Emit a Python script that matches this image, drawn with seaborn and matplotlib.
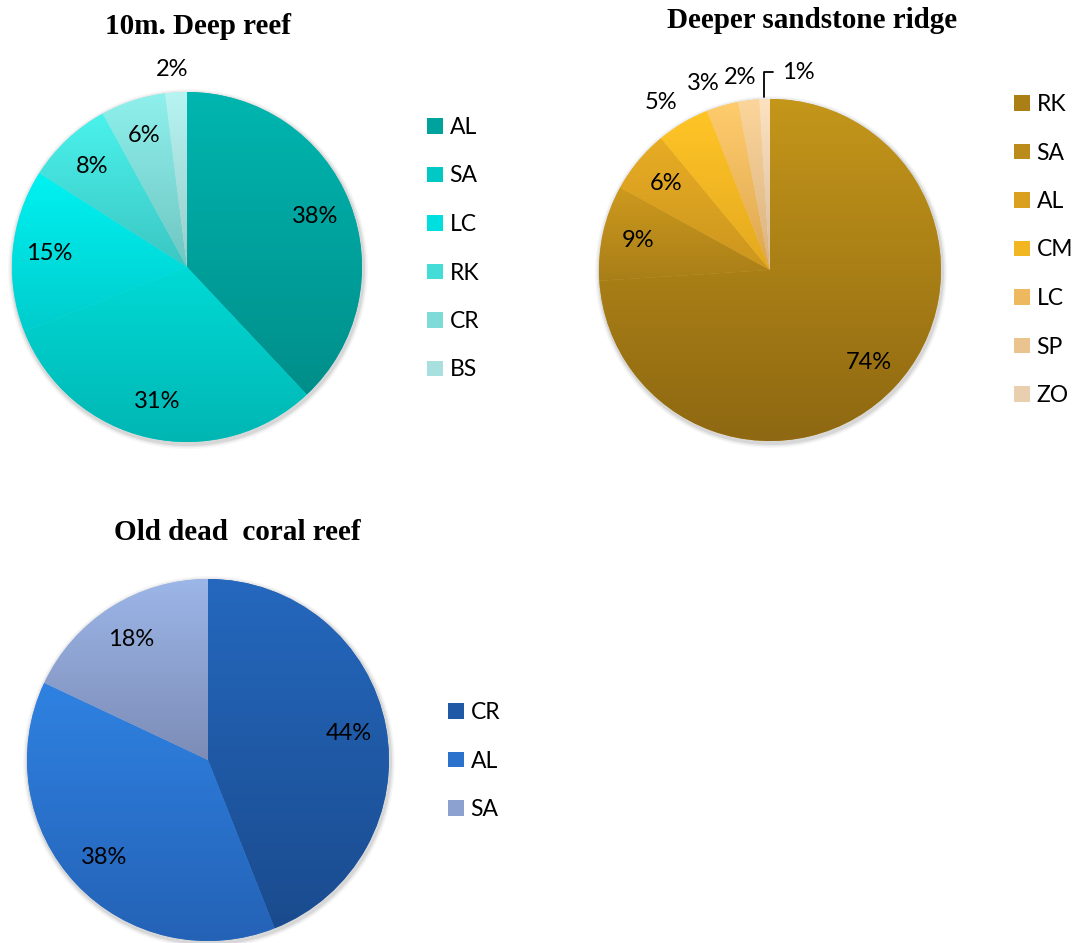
import numpy as np
import matplotlib
matplotlib.use("Agg")
import matplotlib.pyplot as plt
import matplotlib.colors as mcolors
from matplotlib.patches import Patch, Circle
import seaborn as sns

# data
reef_labels = ["AL", "SA", "LC", "RK", "CR", "BS"]
reef_values = [38, 31, 15, 8, 6, 2]

ridge_labels = ["RK", "SA", "AL", "CM", "LC", "SP", "ZO"]
ridge_values = [74, 9, 6, 5, 3, 2, 1]

coral_labels = ["CR", "AL", "SA"]
coral_values = [44, 38, 18]

# colours (top of slice, bottom of slice)
reef_top = ["#00B6B0", "#00DAD6", "#00F2F2", "#4AF2EC", "#8EF0EC", "#B6F4F2"]
reef_bot = ["#008E8A", "#00B6B3", "#00CCCC", "#3CC6C2", "#70C6C2", "#98CCCA"]
ridge_top = ["#C4961A", "#CE9A1E", "#E8AC24", "#FFC526", "#FFCC6C", "#FCD59A", "#FDE2C0"]
ridge_bot = ["#8E6812", "#A87E18", "#CC961E", "#E4A820", "#DCA650", "#D8B282", "#D4BC9E"]
coral_top = ["#2568BE", "#2F82E2", "#9CB6E8"]
coral_bot = ["#1A4B8E", "#2462B6", "#7C8CB6"]

H = 943

sns.set_theme(style="white")
plt.rcParams['font.family'] = ['Lato', 'DejaVu Sans']
plt.rcParams['text.color'] = 'black'

fig = plt.figure(figsize=(10.76, 9.43), dpi=100)
ax = fig.add_axes([0, 0, 1, 1])


def shade(wedges, tops, bots):
    grad = np.linspace(0, 1, 256).reshape(-1, 1)
    for w, c1, c2 in zip(wedges, tops, bots):
        ext = w.get_path().get_extents()
        cmap = mcolors.LinearSegmentedColormap.from_list("g", [c2, c1])
        im = ax.imshow(grad, cmap=cmap, origin="lower", aspect="auto",
                       extent=(ext.x0, ext.x1, ext.y0, ext.y1), zorder=2)
        im.set_clip_path(w)


def draw_pie(values, tops, bots, cx, cy, r, outside=(), skip=()):
    # soft shadow
    for k, a in [(5, 0.03), (3.5, 0.05), (2, 0.08)]:
        ax.add_patch(Circle((cx + 1, H - cy - 2), r + k, color="black", alpha=a, lw=0, zorder=0))
    wedges, texts = ax.pie(values, colors=tops, startangle=90, counterclock=False,
                           center=(cx, H - cy), radius=r,
                           wedgeprops=dict(linewidth=0), labeldistance=None)
    shade(wedges, tops, bots)
    for i, (w, v) in enumerate(zip(wedges, values)):
        if i in skip:
            continue
        th = np.deg2rad((w.theta1 + w.theta2) / 2)
        c, s = np.cos(th), np.sin(th)
        if i in outside:
            f = min(1.0, abs(c) / 0.3)
            ax.text(cx + 1.07 * r * c + (1 - f) * 16, H - cy + 1.07 * r * s, f"{v}%",
                    ha="right", va="bottom", fontsize=17, color="black", zorder=5)
        else:
            ax.text(cx + 0.79 * r * c, H - cy + 0.79 * r * s, f"{v}%",
                    ha="center", va="center", fontsize=17, color="black", zorder=5)
    return wedges


# 10m deep reef
draw_pie(reef_values, reef_top, reef_bot, 187, 267, 175, outside=(5,))

# deeper sandstone ridge
w2 = draw_pie(ridge_values, ridge_top, ridge_bot, 770, 270, 171,
              outside=(3, 4, 5), skip=(6,))
last = w2[-1]
th = np.deg2rad((last.theta1 + last.theta2) / 2)
px, py = 770 + 171 * np.cos(th), H - 270 + 171 * np.sin(th)
ax.annotate(f"{ridge_values[-1]}%", xy=(px - 1, py + 2), xytext=(px + 17, py + 27),
            ha="left", va="center", fontsize=17, color="black", zorder=5,
            arrowprops=dict(arrowstyle="-", color="black", lw=1.3,
                            connectionstyle="angle,angleA=0,angleB=90,rad=0",
                            shrinkA=4, shrinkB=0))

# old dead coral reef
draw_pie(coral_values, coral_top, coral_bot, 208, 760, 181)

# titles
title_font = dict(family="Liberation Serif", fontweight="bold", fontsize=21,
                  ha="center", va="center", color="black")
ax.text(198, H - 27, "10m. Deep reef", **title_font)
ax.text(812, H - 20, "Deeper sandstone ridge", **title_font)
ax.text(237, H - 533, "Old dead  coral reef", **title_font)


def legend(labels, tops, bots, x, y):
    colors = [mcolors.to_hex(np.mean([mcolors.to_rgb(a), mcolors.to_rgb(b)], axis=0))
              for a, b in zip(tops, bots)]
    handles = [Patch(facecolor=c, edgecolor="none") for c in colors]
    fig.legend(handles, labels, loc="upper left", bbox_to_anchor=(x, H - y),
               bbox_transform=ax.transData, frameon=False, fontsize=16.5,
               labelcolor="black",
               handlelength=0.68, handleheight=0.68, handletextpad=0.3,
               labelspacing=1.2, borderpad=0, borderaxespad=0)


legend(reef_labels, reef_top, reef_bot, 427, 117)
legend(ridge_labels, ridge_top, ridge_bot, 1014, 94)
legend(coral_labels, coral_top, coral_bot, 448, 702)

ax.set_xlim(0, 1076)
ax.set_ylim(0, H)
ax.set_aspect("equal")
ax.axis("off")

fig.savefig("out.png", dpi=100)
